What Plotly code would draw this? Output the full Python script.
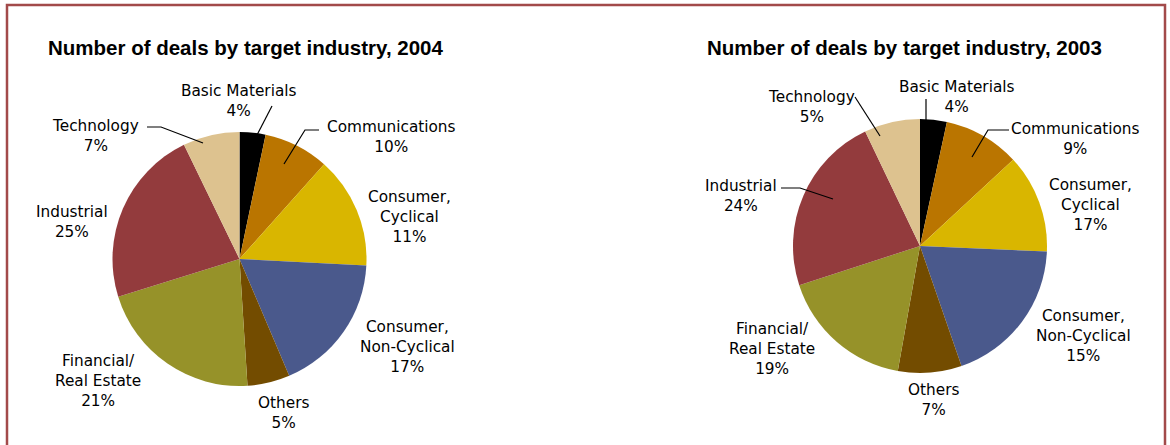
import plotly.graph_objects as go

W, H = 1170, 445

industries = ["Basic Materials", "Communications", "Consumer, Cyclical",
              "Consumer, Non-Cyclical", "Others", "Financial/ Real Estate",
              "Industrial", "Technology"]
colors = ["#000000", "#BA7500", "#D9B600", "#4A598C",
          "#734C00", "#969229", "#933B3D", "#DDC28F"]

# slice shares (angles)
values_2004 = [3.3, 8.3, 14.2, 17.8, 5.4, 21.2, 22.6, 7.2]
values_2003 = [3.4, 9.7, 12.6, 19.0, 8.1, 17.2, 22.9, 7.1]

# label texts as printed on the chart
labels_2004 = ["Basic Materials<br>4%", "Communications<br>10%", "Consumer,<br>Cyclical<br>11%",
               "Consumer,<br>Non-Cyclical<br>17%", "Others<br>5%", "Financial/<br>Real Estate<br>21%",
               "Industrial<br>25%", "Technology<br>7%"]
labels_2003 = ["Basic Materials<br>4%", "Communications<br>9%", "Consumer,<br>Cyclical<br>17%",
               "Consumer,<br>Non-Cyclical<br>15%", "Others<br>7%", "Financial/<br>Real Estate<br>19%",
               "Industrial<br>24%", "Technology<br>5%"]

titles = ["Number of deals by target industry, 2004", "Number of deals by target industry, 2003"]

# layout positions (pixels)
pie_centers = [(239.5, 259), (920, 246)]
R = 127
label_pos_2004 = [(239, 101), (391, 137), (409, 217), (407, 347), (283, 413), (98, 381), (72, 222), (95, 136)]
label_pos_2003 = [(957, 97), (1075, 139), (1090, 205), (1083, 336), (933, 400), (772, 349), (741, 196), (811, 107)]
leaders = [
    [(272, 106), (257, 135)],
    [(319, 130), (305, 130), (284, 164)],
    [(147, 127), (161, 127), (203, 143)],
    [(855, 97), (880, 136)],
    [(926, 99), (926, 120)],
    [(1009, 130), (988, 130), (972, 157)],
    [(781, 188), (800, 188), (833, 199)],
]
title_pos = [(245.5, 48), (904.5, 48)]


def fx(x):
    return x / W


def fy(y):
    return 1 - y / H


fig = go.Figure()
for vals, (cx, cy) in zip([values_2004, values_2003], pie_centers):
    fig.add_trace(go.Pie(
        labels=industries, values=vals, sort=False, direction="clockwise", rotation=0,
        marker=dict(colors=colors, line=dict(width=0)),
        textinfo="none", hoverinfo="label+percent", showlegend=False,
        domain=dict(x=[fx(cx - R), fx(cx + R)], y=[fy(cy + R), fy(cy - R)]),
    ))

annotations = []
for texts, poss in [(labels_2004, label_pos_2004), (labels_2003, label_pos_2003)]:
    for t, (x, y) in zip(texts, poss):
        annotations.append(dict(
            x=fx(x), y=fy(y), xref="paper", yref="paper", text=t, showarrow=False,
            xanchor="center", yanchor="middle", align="center",
            font=dict(family="DejaVu Sans, sans-serif", size=15.3, color="#000000"),
        ))
for t, (x, y) in zip(titles, title_pos):
    annotations.append(dict(
        x=fx(x), y=fy(y), xref="paper", yref="paper", text="<b>" + t + "</b>", showarrow=False,
        xanchor="center", yanchor="middle",
        font=dict(family="Liberation Sans, Arial, sans-serif", size=20.5, color="#000000"),
    ))

shapes = []
for pts in leaders:
    path = "M " + " L ".join(f"{fx(x)},{fy(y)}" for x, y in pts)
    shapes.append(dict(type="path", path=path, xref="paper", yref="paper",
                       line=dict(color="#000000", width=1.2)))
shapes.append(dict(type="rect", xref="paper", yref="paper",
                   x0=fx(7), x1=fx(1165), y0=-0.2, y1=fy(5),
                   line=dict(color="#A24A4A", width=2.5), fillcolor="rgba(0,0,0,0)"))

fig.update_layout(
    width=W, height=H, margin=dict(l=0, r=0, t=0, b=0),
    paper_bgcolor="#FFFFFF", plot_bgcolor="#FFFFFF",
    annotations=annotations, shapes=shapes,
)

fig.write_html("out.html", config={"displayModeBar": False})
